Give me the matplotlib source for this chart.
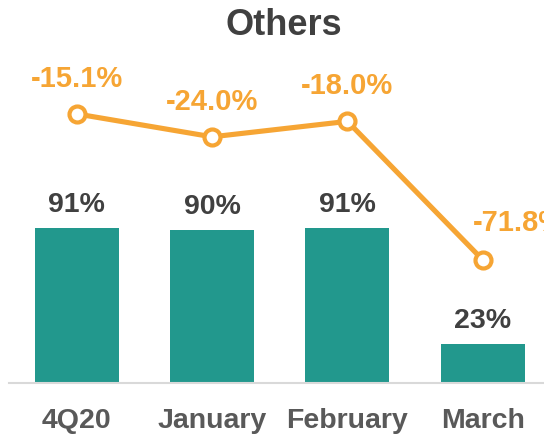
import matplotlib
matplotlib.use('Agg')
import matplotlib.pyplot as plt

plt.rcParams['font.family'] = ['Liberation Sans', 'DejaVu Sans']

# data
categories = ['4Q20', 'January', 'February', 'March']
share = [91, 90, 91, 23]
share_labels = ['91%', '90%', '91%', '23%']
change = [-15.1, -24.0, -18.0, -71.8]
change_labels = ['-15.1%', '-24.0%', '-18.0%', '-71.8%']

teal = '#22988D'
orange = '#F6A534'
dark = '#404040'
grey = '#595959'

W, H = 544, 434
fig = plt.figure(figsize=(W / 100, H / 100), dpi=100)
ax = fig.add_axes([9 / W, 51 / H, 541.5 / W, 343 / H])
ax2 = ax.twinx()

x = range(len(categories))

# bars
ax.bar(x, share, width=0.62, color=teal, zorder=2)
ax.set_xlim(-0.5, 3.5)
ax.set_ylim(0, 201.4)
for i, lab in enumerate(share_labels):
    ax.annotate(lab, (i, share[i]), xytext=(0, 11.5), textcoords='offset points',
                ha='center', va='baseline', fontsize=20.5, fontweight='bold', color=dark)

# category labels under the axis
for i, lab in enumerate(categories):
    ax.annotate(lab, (i, 0), xycoords=('data', 'axes fraction'), xytext=(0, -32.4),
                textcoords='offset points', ha='center', va='baseline',
                fontsize=20.5, fontweight='bold', color=grey)

# line on secondary scale
ax2.plot(x, change, color=orange, lw=3.7, marker='o', ms=11.5, mew=3,
         mfc='white', mec=orange, zorder=3)
ax2.set_ylim(-119.6, 13.6)
for i, lab in enumerate(change_labels):
    if i == len(change_labels) - 1:
        ax2.annotate(lab, (i, change[i]), xytext=(-7.5, 20.5), textcoords='offset points',
                     ha='left', va='baseline', fontsize=21, fontweight='bold', color=orange)
    else:
        ax2.annotate(lab, (i, change[i]), xytext=(0, 19.5), textcoords='offset points',
                     ha='center', va='baseline', fontsize=21, fontweight='bold', color=orange)

for a in (ax, ax2):
    for s in ['top', 'right', 'left', 'bottom']:
        a.spines[s].set_visible(False)
    a.set_xticks([])
    a.set_yticks([])
ax.spines['bottom'].set_visible(True)
ax.spines['bottom'].set_color('#D9D9D9')
ax.spines['bottom'].set_linewidth(1.5)

fig.text(284 / W, 1 - 35 / H, 'Others', ha='center', va='baseline',
         fontsize=26, fontweight='bold', color=dark)

fig.savefig('out.png', dpi=100)
